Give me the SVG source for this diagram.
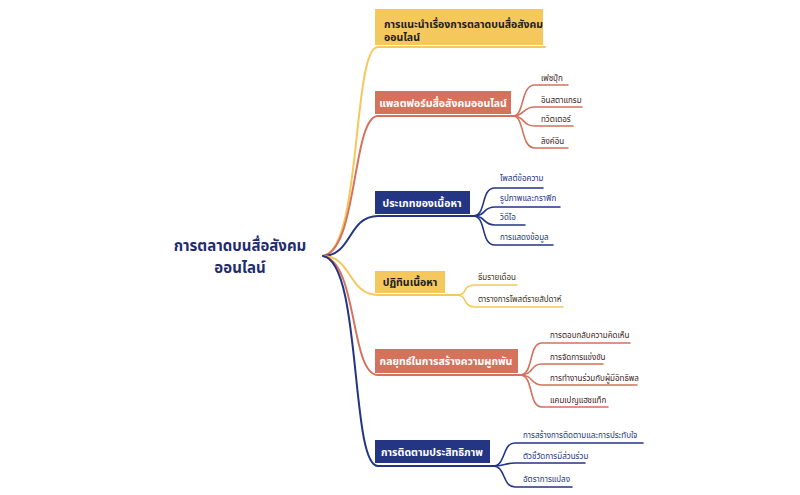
<svg xmlns="http://www.w3.org/2000/svg" width="800" height="495" viewBox="0 0 800 495">
<style>
text{font-family:"Noto Sans","Noto Sans Thai","Loma","Garuda",sans-serif;}
.root{font-size:15px;font-weight:bold;fill:#1f2d6e;text-anchor:middle;}
.nt{font-size:10.5px;font-weight:bold;}
.ct{font-size:8px;}
.y{stroke:#f5c85e;}
.s{stroke:#d4725c;}
.n{stroke:#243583;}
.ln{fill:none;stroke-width:2;stroke-linecap:round;}
.cl{fill:none;stroke-width:1.6;stroke-linecap:round;}
</style>
<rect width="800" height="495" fill="#ffffff"/>
<g id="connectors">
  <path class="ln y" d="M323,256 C362,250 352,47 378,47 L545,47"/>
  <path class="ln s" d="M323,256 C358,250 352,116 378,116 L513,116"/>
  <path class="ln n" d="M323,256 C352,256 348,216 378,216 L473,216"/>
  <path class="ln y" d="M323,256 C352,256 348,295 378,295 L457,295"/>
  <path class="ln s" d="M323,256 C358,262 350,375 378,375 L520,375"/>
  <path class="ln n" d="M323,256 C362,262 350,466 378,466 L493,466"/>
  <g class="cl s">
    <path d="M513,116 C525,116 520,85 535,85 L568,85"/>
    <path d="M513,116 C525,116 522,107 535,107 L582,107"/>
    <path d="M513,116 C525,116 522,126 535,126 L573,126"/>
    <path d="M513,116 C525,116 520,148 535,148 L568,148"/>
  </g>
  <g class="cl n">
    <path d="M473,216 C487,216 480,188 495,188 L543,188"/>
    <path d="M473,216 C487,216 482,207 495,207 L560,207"/>
    <path d="M473,216 C487,216 482,225 495,225 L525,225"/>
    <path d="M473,216 C487,216 480,245 495,245 L553,245"/>
  </g>
  <g class="cl y">
    <path d="M457,295 C468,295 462,285 475,285 L517,285"/>
    <path d="M457,295 C468,295 462,307 475,307 L563,307"/>
  </g>
  <g class="cl s">
    <path d="M520,375 C534,375 528,343 542,343 L630,343"/>
    <path d="M520,375 C534,375 530,364 542,364 L603,364"/>
    <path d="M520,375 C534,375 530,385 542,385 L637,385"/>
    <path d="M520,375 C534,375 528,407 542,407 L608,407"/>
  </g>
  <g class="cl n">
    <path d="M493,466 C506,466 502,443 515,443 L643,443"/>
    <path d="M493,466 C504,466 505,463 515,463 L585,463"/>
    <path d="M493,466 C506,466 502,487 515,487 L572,487"/>
  </g>
</g>
<g id="root">
  <text class="root" x="240" y="251">การตลาดบนสื่อสังคม</text>
  <text class="root" x="240" y="273">ออนไลน์</text>
</g>
<g id="n1">
  <rect x="375" y="9" width="168" height="36" fill="#f5c85e"/>
  <text class="nt" x="384" y="28" fill="#1e1e1e">การแนะนำเรื่องการตลาดบนสื่อสังคม</text>
  <text class="nt" x="384" y="41" fill="#1e1e1e">ออนไลน์</text>
</g>
<g id="n2">
  <rect x="375" y="91" width="136" height="23" fill="#d4725c"/>
  <text class="nt" x="443" y="107" fill="#ffffff" text-anchor="middle">แพลตฟอร์มสื่อสังคมออนไลน์</text>
  <text class="ct" x="541" y="81" fill="#3a2323">เฟซบุ๊ก</text>
  <text class="ct" x="541" y="103" fill="#3a2323">อินสตาแกรม</text>
  <text class="ct" x="541" y="122" fill="#3a2323">ทวิตเตอร์</text>
  <text class="ct" x="541" y="144" fill="#3a2323">ลิงค์อิน</text>
</g>
<g id="n3">
  <rect x="375" y="191" width="95" height="23" fill="#243583"/>
  <text class="nt" x="422" y="207" fill="#ffffff" text-anchor="middle">ประเภทของเนื้อหา</text>
  <text class="ct" x="500" y="181" fill="#243583">โพสต์ข้อความ</text>
  <text class="ct" x="500" y="201" fill="#243583">รูปภาพและกราฟิก</text>
  <text class="ct" x="500" y="220" fill="#243583">วิดีโอ</text>
  <text class="ct" x="500" y="240" fill="#243583">การแสดงข้อมูล</text>
</g>
<g id="n4">
  <rect x="375" y="271" width="70" height="22" fill="#f5c85e"/>
  <text class="nt" x="410" y="286" fill="#1e1e1e" text-anchor="middle">ปฏิทินเนื้อหา</text>
  <text class="ct" x="478" y="280" fill="#3b3320">ธีมรายเดือน</text>
  <text class="ct" x="478" y="302" fill="#3b3320">ตารางการโพสต์รายสัปดาห์</text>
</g>
<g id="n5">
  <rect x="375" y="349" width="143" height="24" fill="#d4725c"/>
  <text class="nt" x="446" y="365" fill="#ffffff" text-anchor="middle">กลยุทธ์ในการสร้างความผูกพัน</text>
  <text class="ct" x="550" y="338" fill="#3a2323">การตอบกลับความคิดเห็น</text>
  <text class="ct" x="550" y="360" fill="#3a2323">การจัดการแข่งขัน</text>
  <text class="ct" x="550" y="381" fill="#3a2323">การทำงานร่วมกับผู้มีอิทธิพล</text>
  <text class="ct" x="550" y="403" fill="#3a2323">แคมเปญแฮชแท็ก</text>
</g>
<g id="n6">
  <rect x="375" y="440" width="115" height="23" fill="#243583"/>
  <text class="nt" x="432" y="456" fill="#ffffff" text-anchor="middle">การติดตามประสิทธิภาพ</text>
  <text class="ct" x="523" y="438" fill="#243583">การสร้างการติดตามและการประทับใจ</text>
  <text class="ct" x="523" y="459" fill="#243583">ตัวชี้วัดการมีส่วนร่วม</text>
  <text class="ct" x="523" y="482" fill="#243583">อัตราการแปลง</text>
</g>
</svg>
